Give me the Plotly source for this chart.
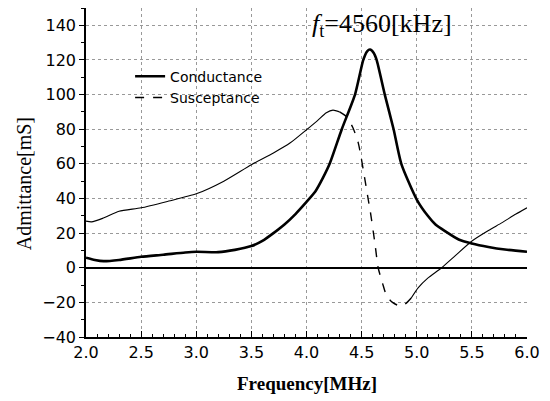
import plotly.graph_objects as go

# Conductance (MHz, mS)
g_freq = [2.0, 2.08, 2.16, 2.3, 2.5, 2.7, 2.9, 3.0, 3.2, 3.35, 3.5, 3.6, 3.7, 3.8, 3.9, 4.0, 4.08,
          4.15, 4.21, 4.32, 4.44, 4.515, 4.55, 4.576, 4.61, 4.636, 4.71, 4.79, 4.86, 5.0, 5.1,
          5.17, 5.26, 5.38, 5.5, 5.65, 5.8, 6.0]
g_vals = [5.8, 4.5, 3.8, 4.5, 6.3, 7.5, 8.8, 9.2, 9.0, 10.3, 12.5, 15.5, 20, 25, 31, 38, 44,
          52, 60, 80, 100, 120, 125, 126, 124, 120, 100, 80, 60, 39.4, 30,
          25, 21, 16.3, 14, 12, 10.5, 9.2]

# Susceptance (MHz, mS)
b_freq = [2.0, 2.05, 2.15, 2.3, 2.5, 2.75, 3.0, 3.25, 3.5, 3.7, 3.85, 4.0, 4.1, 4.18, 4.24, 4.3,
          4.36, 4.42, 4.47, 4.53, 4.56, 4.576, 4.62, 4.65, 4.69, 4.727, 4.78, 4.83, 4.89, 4.95,
          5.014, 5.1, 5.226, 5.35, 5.498, 5.65, 5.77, 5.9, 6.0]
b_vals = [26.9, 26.5, 28.5, 32.6, 34.6, 38.5, 42.7, 50, 59.5, 66.3, 72, 79.7, 85, 89.5, 91, 90,
          87.4, 81, 72, 50.9, 39.4, 33.6, 14.4, 0, -9, -16.3, -20, -21.7, -21.2, -17.5,
          -11.5, -6, 0, 7, 15.3, 21.5, 25.9, 31, 34.6]

x_ticks = [2.0, 2.5, 3.0, 3.5, 4.0, 4.5, 5.0, 5.5, 6.0]
y_ticks = [-40, -20, 0, 20, 40, 60, 80, 100, 120, 140]

# segment boundaries for the susceptance curve (dashed part)
dash_start = b_freq.index(4.3)
dash_end = b_freq.index(4.95)

fig = go.Figure()
fig.add_trace(go.Scatter(x=g_freq, y=g_vals, mode="lines", name="Conductance",
                         line=dict(color="black", width=2.6, shape="spline", smoothing=0.6)))
fig.add_trace(go.Scatter(x=b_freq[dash_start:dash_end + 1], y=b_vals[dash_start:dash_end + 1],
                         mode="lines", name="Susceptance",
                         line=dict(color="black", width=1.4, dash="dash", shape="spline", smoothing=0.6)))
fig.add_trace(go.Scatter(x=b_freq[:dash_start + 1], y=b_vals[:dash_start + 1], mode="lines",
                         showlegend=False,
                         line=dict(color="black", width=1.1, shape="spline", smoothing=0.6)))
fig.add_trace(go.Scatter(x=b_freq[dash_end:], y=b_vals[dash_end:], mode="lines",
                         showlegend=False,
                         line=dict(color="black", width=1.1, shape="spline", smoothing=0.6)))

fig.add_annotation(x=4.03, y=140, xref="x", yref="y", xanchor="left", yanchor="middle",
                   text="<i>f</i><sub>t</sub>=4560[kHz]", showarrow=False,
                   font=dict(family="Liberation Serif", size=26, color="black"))
fig.add_annotation(x=-0.14, y=0.465, xref="paper", yref="paper", textangle=-90,
                   xanchor="center", yanchor="middle",
                   text="Admittance[mS]", showarrow=False,
                   font=dict(family="Liberation Serif", size=20, color="black"))
fig.add_annotation(x=0.5, y=-0.14, xref="paper", yref="paper", yanchor="middle",
                   text="<b>Frequency[MHz]</b>", showarrow=False,
                   font=dict(family="Liberation Serif", size=19, color="black"))

# the page body has an 8px margin, so the figure is sized to fill the rest of the window
fig.update_layout(
    width=542, height=393,
    margin=dict(l=78, r=23, t=0, b=64, autoexpand=False),
    paper_bgcolor="white", plot_bgcolor="white",
    font=dict(family="DejaVu Sans", size=16, color="black"),
    legend=dict(x=0.10, y=0.84, xanchor="left", yanchor="top", bgcolor="rgba(0,0,0,0)",
                font=dict(family="DejaVu Sans", size=14), tracegroupgap=0),
    showlegend=True,
)
fig.update_xaxes(range=[2.0, 6.0], tickvals=x_ticks, ticktext=[f"{v:.1f}" for v in x_ticks],
                 automargin=False,
                 showline=True, linecolor="black", linewidth=2, ticks="inside", ticklen=6,
                 tickcolor="black", minor=dict(dtick=0.1, ticks="inside", ticklen=3, tickcolor="black",
                                               showgrid=False),
                 showgrid=True, gridcolor="#999999", griddash="dot", gridwidth=1, zeroline=False)
fig.update_yaxes(range=[-40, 150], tickvals=y_ticks, automargin=False,
                 showline=True, linecolor="black", linewidth=1.5,
                 ticks="outside", ticklen=5, tickcolor="black",
                 minor=dict(dtick=10, ticks="outside", ticklen=3, tickcolor="black", showgrid=False),
                 showgrid=True, gridcolor="#999999", griddash="dot", gridwidth=1,
                 zeroline=True, zerolinecolor="black", zerolinewidth=1.5)

fig.write_html("out.html")
